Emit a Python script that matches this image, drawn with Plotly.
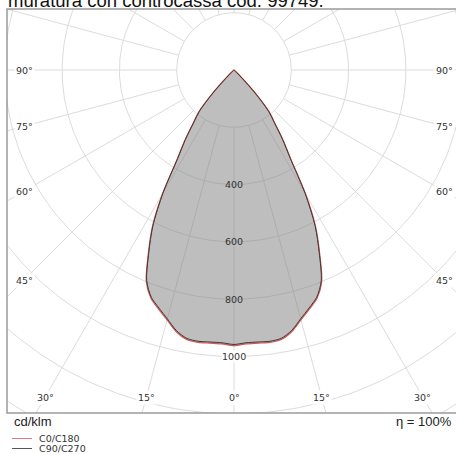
import numpy as np
import plotly.graph_objects as go

# ---------------- data ----------------
gamma_deg = [0, 2.5, 5, 7.5, 10, 12.5, 15, 17.5, 20, 22.5, 25, 27.5, 30,
             32.5, 35, 37.5, 40, 42.5, 45, 47.5, 50]
c0_c180 = [962, 957, 957, 959, 955, 935, 903, 875, 848, 800, 708, 617, 499,
           369, 298, 234, 191, 111, 37, 8, 0]
c90_c270 = [958, 953, 953, 955, 951, 931, 899, 871, 844, 796, 704, 613, 495,
            366, 295, 231, 188, 109, 36, 8, 0]
radial_ticks = [400, 600, 800, 1000]
grid_radii = [200, 400, 600, 800, 1000, 1200, 1400, 1600]
angle_labels = ["90°", "75°", "60°", "45°", "30°", "15°", "0°"]
title_text = "muratura con controcassa cod. 99749."
unit_text = "cd/klm"
eta_text = "η = 100%"
legend_names = ["C0/C180", "C90/C270"]

# ---------------- geometry ----------------
W, H = 456, 454
L, T, B = 7, 9, 413          # frame (pixels)
CX, CY = 234, 70             # polar centre (pixels)
S = 0.2865                   # px per cd
x0 = (L - CX) / S
x1 = (W - CX) / S
y1 = (CY - T) / S
y0 = -(B - CY) / S

def px2x(px):
    return (px - CX) / S

def py2y(py):
    return -(py - CY) / S

def polar_curve(vals):
    g = np.radians(np.array(gamma_deg, dtype=float))
    v = np.array(vals, dtype=float)
    ang = np.concatenate([-g[::-1], g[1:]])
    r = np.concatenate([v[::-1], v[1:]])
    return r * np.sin(ang), -r * np.cos(ang)

fig = go.Figure()
grid_col = "#dcdcdc"

# grid circles
t = np.linspace(0, 2 * np.pi, 361)
for rr in grid_radii:
    fig.add_trace(go.Scatter(x=rr * np.sin(t), y=rr * np.cos(t), mode="lines",
                             line=dict(color=grid_col, width=1),
                             hoverinfo="skip", showlegend=False))
# grid rays every 15 degrees
for a in range(0, 360, 15):
    ar = np.radians(a)
    fig.add_trace(go.Scatter(x=[200 * np.sin(ar), 2200 * np.sin(ar)],
                             y=[-200 * np.cos(ar), -2200 * np.cos(ar)],
                             mode="lines", line=dict(color=grid_col, width=1),
                             hoverinfo="skip", showlegend=False))

# filled distribution
xa, ya = polar_curve(c0_c180)
fig.add_trace(go.Scatter(x=xa, y=ya, mode="lines", fill="toself",
                         fillcolor="rgba(125,125,125,0.5)",
                         line=dict(color="#d9534f", width=1.2, shape="spline", smoothing=0.8),
                         name=legend_names[0], showlegend=False))
xb, yb = polar_curve(c90_c270)
fig.add_trace(go.Scatter(x=xb, y=yb, mode="lines",
                         line=dict(color="#3a3a3a", width=1, shape="spline", smoothing=0.8),
                         name=legend_names[1], showlegend=False))

ann = []
lab_font = dict(family="DejaVu Sans", size=9.5, color="#333333")
# radial labels
for rr in radial_ticks:
    ann.append(dict(x=0, y=-rr, xref="x", yref="y", text=str(rr), showarrow=False,
                    font=lab_font, bgcolor="rgba(0,0,0,0)" if rr < 1000 else "white",
                    borderpad=0))

# angle labels placed on an inset rectangle
inL, inR, inB = 24, 444, 397
for lab in angle_labels:
    a = int(lab.rstrip("°"))
    ar = np.radians(a)
    sx, cy_ = np.sin(ar), np.cos(ar)
    tl = (CX - inL) / sx if sx > 1e-9 else 1e9
    tb = (inB - CY) / cy_ if cy_ > 1e-9 else 1e9
    tt = min(tl, tb)
    dx, dy = tt * sx, tt * cy_
    for sgn in ([-1, 1] if a != 0 else [0]):
        ann.append(dict(x=px2x(CX + sgn * dx), y=py2y(CY + dy), xref="x", yref="y",
                        text=lab, showarrow=False, font=lab_font,
                        bgcolor="white", borderpad=1))

def paper_x(px):
    return (px - L) / (W - L)

def paper_y(py):
    return (B - py) / (B - T)

txt_font = dict(family="Liberation Sans", size=13, color="#222222")
ann.append(dict(x=paper_x(12), y=paper_y(421), xref="paper", yref="paper",
                text=unit_text, showarrow=False, xanchor="left", yanchor="middle",
                font=txt_font))
ann.append(dict(x=paper_x(454), y=paper_y(421), xref="paper", yref="paper",
                text=eta_text, showarrow=False, xanchor="right", yanchor="middle",
                font=txt_font))
ann.append(dict(x=paper_x(6), y=paper_y(1), xref="paper", yref="paper",
                text=title_text, showarrow=False, xanchor="left", yanchor="middle",
                font=dict(family="Liberation Sans", size=18.5, color="#111111")))
leg_font = dict(family="DejaVu Sans", size=9.5, color="#333333")
leg_cols = ["#e07a7a", "#555555"]
leg_y = [438.5, 448.5]
shapes = []
for name, col, yy in zip(legend_names, leg_cols, leg_y):
    shapes.append(dict(type="line", xref="paper", yref="paper",
                       x0=paper_x(12), x1=paper_x(32), y0=paper_y(yy), y1=paper_y(yy),
                       line=dict(color=col, width=1)))
    ann.append(dict(x=paper_x(37), y=paper_y(yy), xref="paper", yref="paper",
                    text=name, showarrow=False, xanchor="left", yanchor="middle",
                    font=leg_font))

# frame
shapes.append(dict(type="rect", xref="paper", yref="paper", x0=0, x1=1.05, y0=0, y1=1,
                   line=dict(color="#9a9a9a", width=1.5), layer="above"))

fig.update_layout(
    width=W, height=H,
    margin=dict(l=L, r=0, t=T, b=H - B, pad=0),
    paper_bgcolor="white", plot_bgcolor="white",
    xaxis=dict(range=[x0, x1], visible=False, fixedrange=True),
    yaxis=dict(range=[y0, y1], visible=False, fixedrange=True),
    annotations=ann, shapes=shapes, showlegend=False,
)
fig.write_html("out.html", config={"displayModeBar": False},
               post_script="document.body.style.margin='0';document.body.style.overflow='hidden';")
